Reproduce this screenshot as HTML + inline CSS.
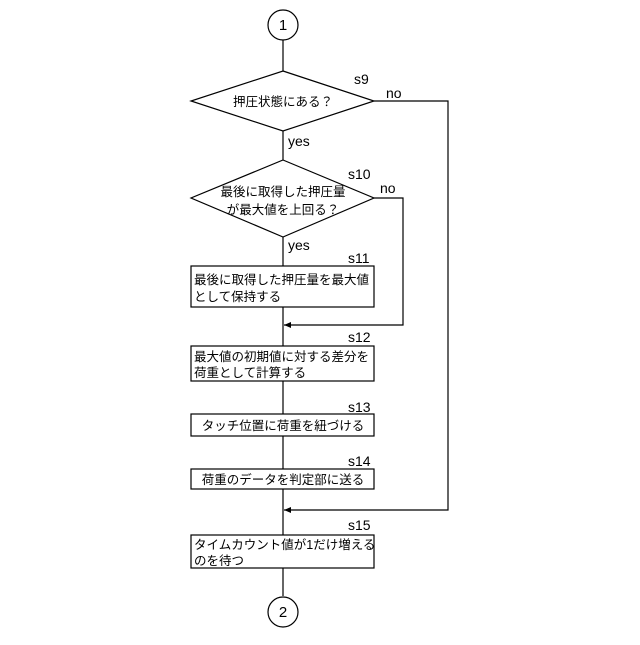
<!DOCTYPE html>
<html><head><meta charset="utf-8"><style>
html,body{margin:0;padding:0;background:#fff;}
svg text{font-family:"Liberation Sans","Noto Sans CJK JP",sans-serif;fill:#000;}
</style></head><body>
<svg width="640" height="640" viewBox="0 0 640 640" xmlns="http://www.w3.org/2000/svg">
<defs><marker id="a" markerWidth="8" markerHeight="8" refX="7" refY="4" orient="auto" markerUnits="userSpaceOnUse"><path d="M0,1 L7,4 L0,7 z" fill="#000"/></marker></defs>
<g stroke="#000" stroke-width="1.2" fill="none">
<circle cx="283" cy="25" r="15" fill="#fff"/>
<line x1="283" y1="40" x2="283" y2="596"/>
<polygon points="283,71 374,101 283,131 191,101" fill="#fff"/>
<polygon points="283,160 374,198 283,237 191,198" fill="#fff"/>
<rect x="191" y="266" width="183" height="41" fill="#fff"/>
<rect x="191" y="346" width="183" height="35" fill="#fff"/>
<rect x="191" y="414" width="183" height="22" fill="#fff"/>
<rect x="191" y="469" width="183" height="20" fill="#fff"/>
<rect x="191" y="535" width="183" height="33" fill="#fff"/>
<circle cx="283" cy="612" r="15" fill="#fff"/>
<polyline points="374,101 448,101 448,510 284,510" marker-end="url(#a)"/>
<polyline points="374,198 403,198 403,325 284,325" marker-end="url(#a)"/>
</g>
<g font-size="14">
<text x="283" y="30" text-anchor="middle" font-size="15">1</text>
<text x="283" y="617" text-anchor="middle" font-size="15">2</text>
<text x="354" y="84" font-size="14">s9</text>
<text x="386" y="98">no</text>
<text x="288" y="146">yes</text>
<text x="348" y="179">s10</text>
<text x="380" y="193">no</text>
<text x="288" y="250">yes</text>
<text x="348" y="263">s11</text>
<text x="348" y="342">s12</text>
<text x="348" y="412">s13</text>
<text x="348" y="466">s14</text>
<text x="348" y="530">s15</text>
</g>
<g font-size="12.5">
<text x="283" y="106" text-anchor="middle">押圧状態にある？</text>
<text x="283" y="196" text-anchor="middle">最後に取得した押圧量</text>
<text x="283" y="214" text-anchor="middle">が最大値を上回る？</text>
<text x="194" y="284">最後に取得した押圧量を最大値</text>
<text x="194" y="301">として保持する</text>
<text x="194" y="361">最大値の初期値に対する差分を</text>
<text x="194" y="377">荷重として計算する</text>
<text x="283" y="430" text-anchor="middle">タッチ位置に荷重を紐づける</text>
<text x="283" y="484" text-anchor="middle">荷重のデータを判定部に送る</text>
<text x="194" y="549">タイムカウント値が1だけ増える</text>
<text x="194" y="565">のを待つ</text>
</g>
</svg>
</body></html>
